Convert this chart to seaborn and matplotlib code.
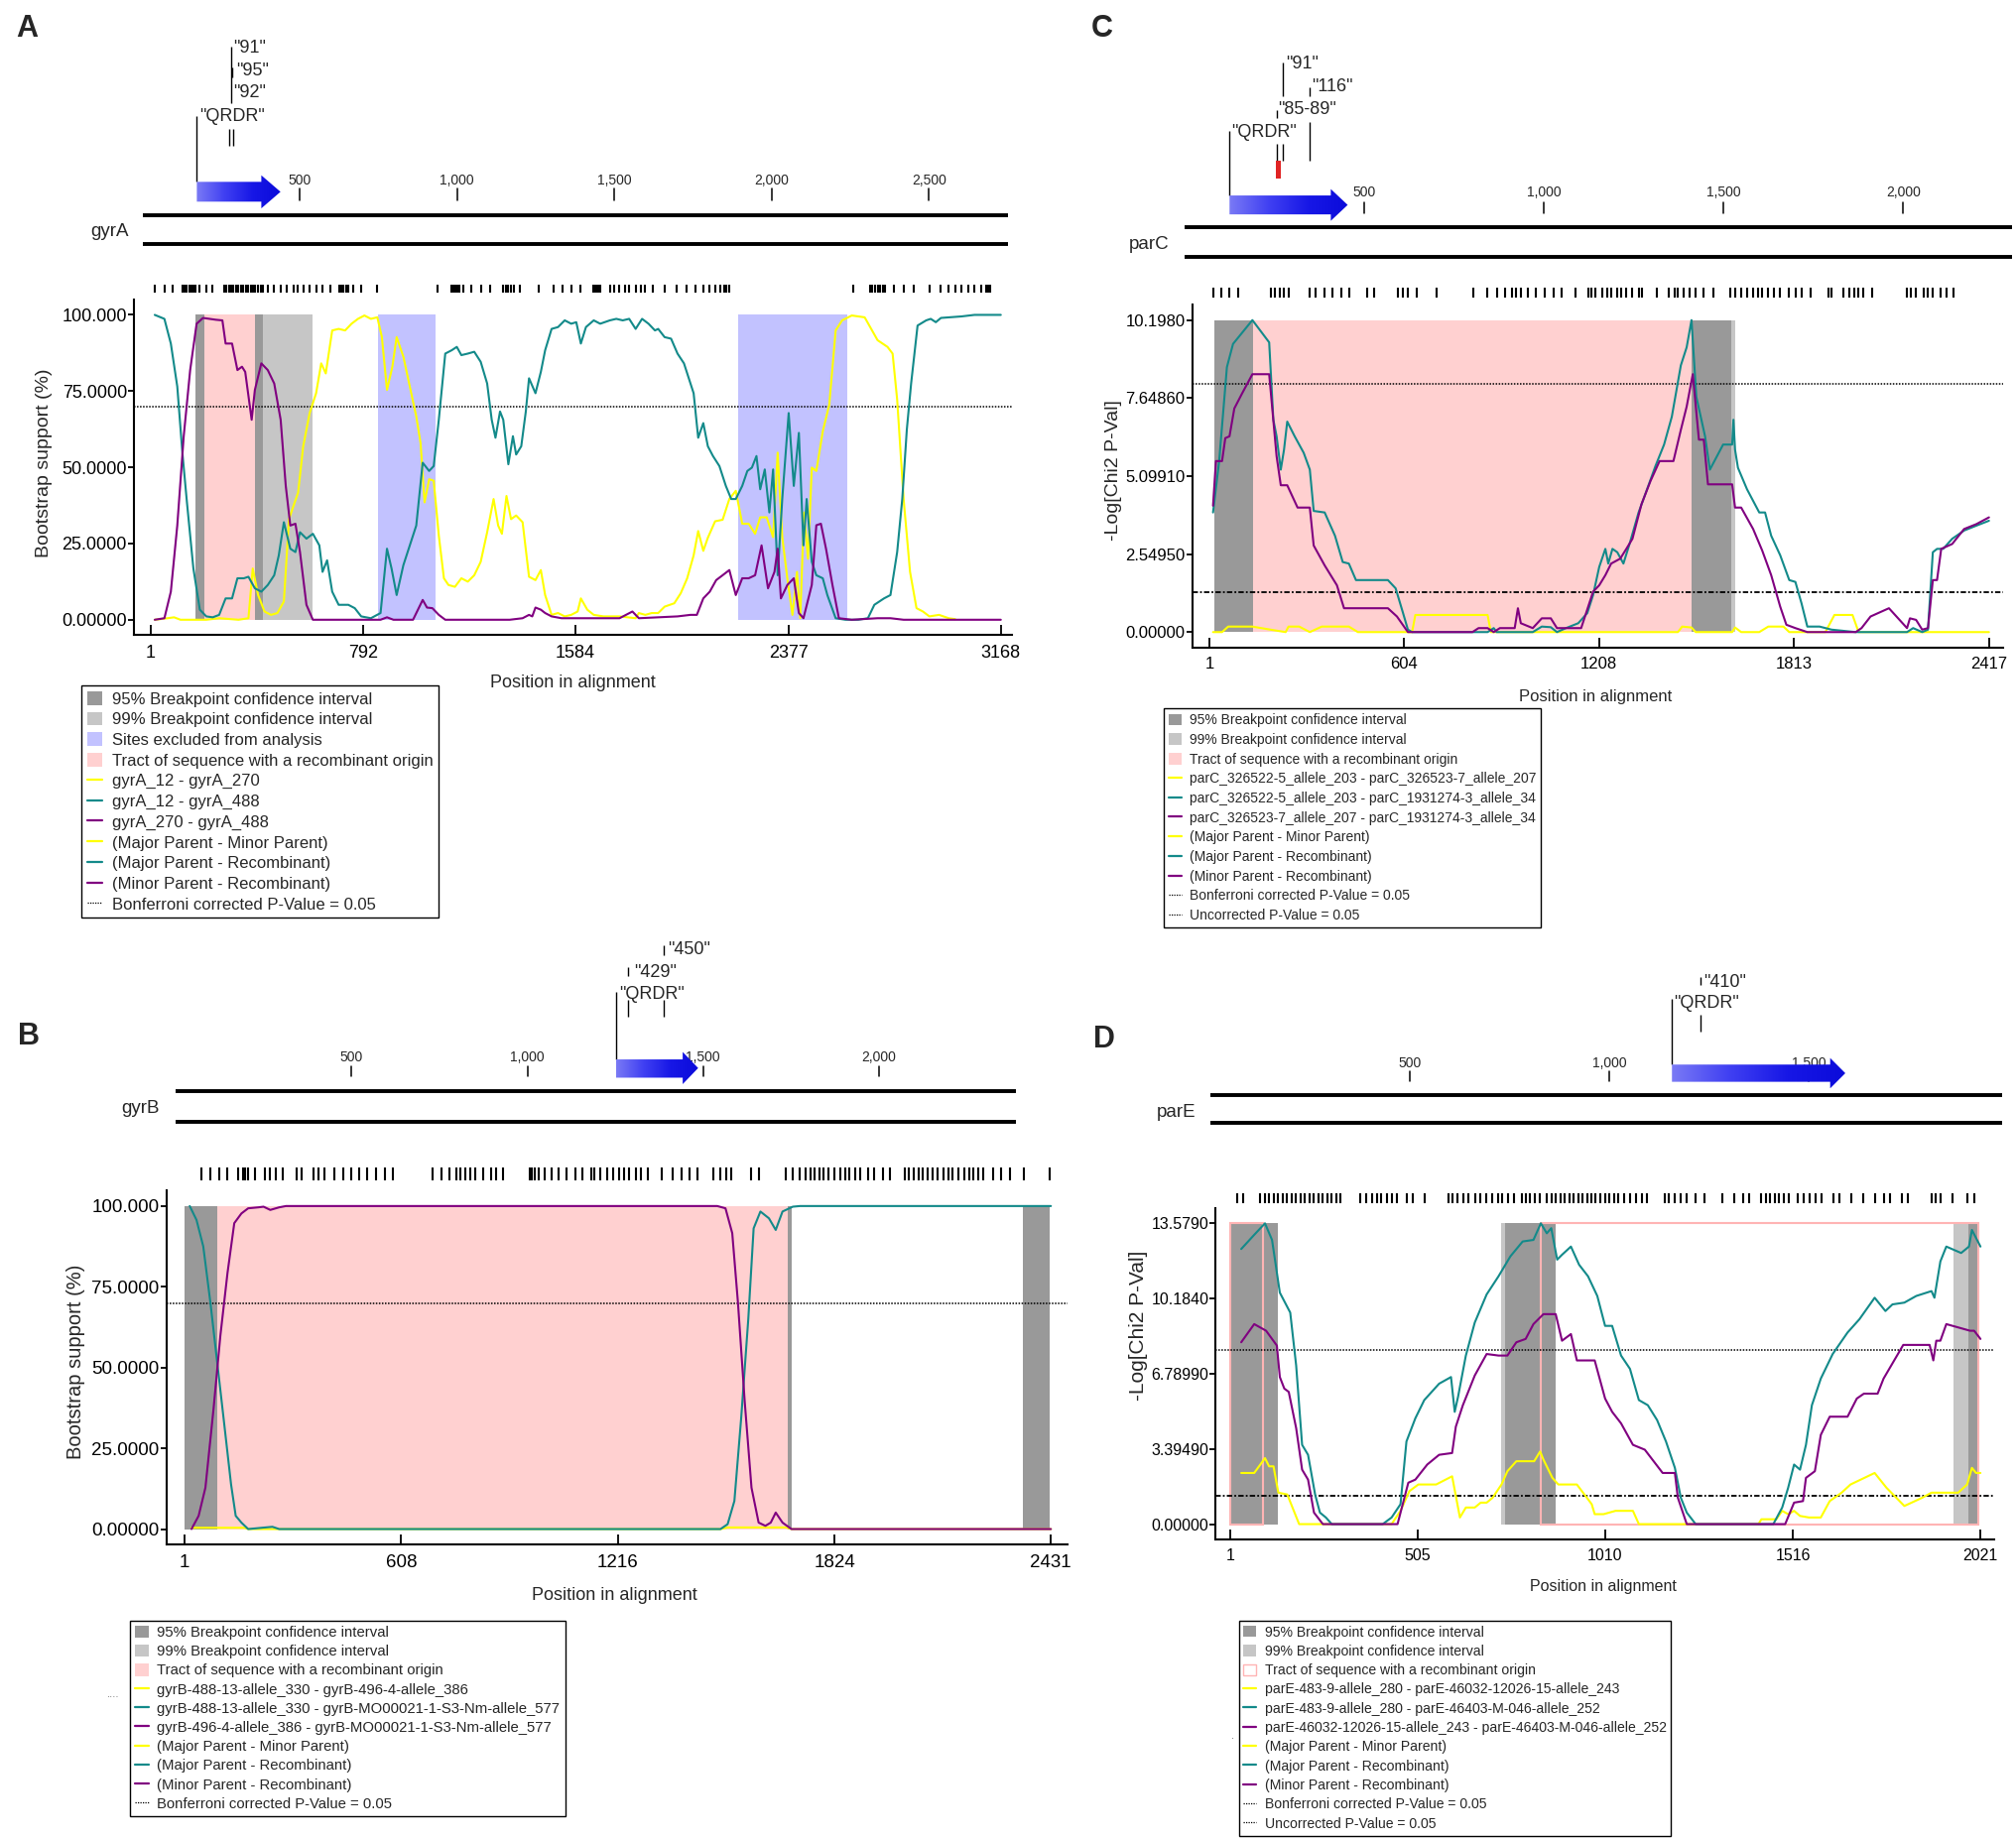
import matplotlib
matplotlib.use("Agg")
import matplotlib.pyplot as plt
import numpy as np
import seaborn as sns
from matplotlib.colors import LinearSegmentedColormap
from matplotlib.lines import Line2D
from matplotlib.patches import Patch, Polygon, Rectangle

sns.set_theme(style="white")
plt.rcParams["font.family"] = ["Liberation Sans", "DejaVu Sans"]

# layout grid: the reference scaled to 1568 x 1430
W, H = 1568.0, 1430.0

YELLOW = "#FFFF00"
TEAL = "#138A8A"
PURPLE = "#800080"
DARK = "#999999"
LIGHT = "#C6C6C6"
BLUE = "#C2C2FF"
PINK = "#FFD0D0"
PINK_EDGE = "#FFB4B4"

# ---------------------------- data: panel A (gyrA) ----------------------------
A_XTICKS = [1, 792, 1584, 2377, 3168]
A_YTICKS = [0, 25, 50, 75, 100]
A_YLABELS = ["0.00000", "25.0000", "50.0000", "75.0000", "100.000"]
A_BONF = 70
A_BP95 = [(169, 202), (390, 419)]
A_BP99 = [(419, 606)]
A_EXCL = [(847, 1063), (2188, 2597)]
A_TRACT = [(202, 390)]
A_PAIRS = ["gyrA_12 - gyrA_270", "gyrA_12 - gyrA_488", "gyrA_270 - gyrA_488"]

A_TEAL_X = [17, 53, 77, 101, 120, 137, 161, 185, 209, 233, 257, 281, 305, 325, 349, 366, 390, 414, 438, 462,
            479, 498, 522, 541, 558, 582, 606, 630, 642, 659, 678, 702, 738, 762, 786, 822, 858, 882, 899, 918,
            943, 967, 991, 1015, 1039, 1056, 1075, 1099, 1123, 1142, 1159, 1183, 1207, 1231, 1255, 1272, 1286,
            1303, 1315, 1334, 1351, 1363, 1382, 1399, 1411, 1435, 1455, 1471, 1495, 1519, 1544, 1568, 1587, 1604,
            1623, 1652, 1676, 1712, 1736, 1760, 1784, 1808, 1832, 1856, 1880, 1892, 1916, 1940, 1964, 1988, 2012,
            2024, 2041, 2060, 2077, 2096, 2120, 2144, 2164, 2181, 2205, 2224, 2241, 2258, 2272, 2289, 2306, 2320,
            2337, 2354, 2378, 2397, 2416, 2433, 2445, 2464, 2481, 2505, 2522, 2553, 2589, 2637, 2673, 2697, 2733,
            2757, 2782, 2801, 2818, 2834, 2858, 2890, 2907, 2926, 2945, 2974, 3022, 3070, 3168]
A_TEAL_Y = [100, 98.7, 90.6, 76.5, 54.8, 38.5, 16.8, 3.3, 1.1, 0.8, 1.6, 7.0, 7.0, 13.6, 13.6, 14.1, 10.3, 9.2,
            11.4, 14.6, 21.1, 32.0, 23.3, 22.2, 28.7, 26.6, 28.2, 24.4, 15.7, 19.5, 9.2, 4.9, 4.9, 3.8, 1.1, 0.5,
            2.2, 23.3, 16.8, 8.1, 17.9, 24.4, 30.9, 51.5, 48.8, 50.4, 65.6, 87.3, 88.4, 89.5, 86.8, 87.3, 87.9,
            84.6, 77.5, 65.6, 59.7, 68.3, 65.6, 51.0, 60.2, 54.2, 56.9, 68.3, 79.2, 74.3, 81.3, 88.4, 95.4, 96.0,
            98.2, 97.1, 97.6, 90.6, 96.0, 98.2, 97.1, 98.2, 98.7, 98.2, 98.7, 95.4, 98.7, 97.1, 94.9, 95.4, 92.7,
            92.2, 87.3, 84.1, 77.5, 74.3, 59.7, 64.5, 56.9, 53.7, 50.4, 43.9, 39.6, 39.6, 43.9, 48.8, 49.9, 53.7,
            42.8, 49.3, 35.2, 49.3, 14.6, 39.6, 67.8, 43.9, 61.3, 24.4, 39.6, 19.0, 14.6, 13.6, 8.1, 0.5, 0, 0,
            0.5, 4.9, 7.0, 8.1, 22.2, 39.6, 62.4, 77.5, 96.5, 98.2, 98.7, 97.6, 99.0, 99.2, 99.5, 100, 100]
A_YEL_X = [17, 65, 89, 113, 209, 257, 329, 366, 382, 402, 426, 450, 474, 498, 517, 534, 551, 570, 594, 618,
           637, 654, 678, 702, 726, 750, 774, 798, 822, 846, 863, 882, 902, 918, 943, 967, 991, 1007, 1022, 1039,
           1056, 1075, 1094, 1111, 1135, 1159, 1183, 1207, 1231, 1255, 1279, 1296, 1310, 1327, 1344, 1363, 1387,
           1411, 1435, 1455, 1471, 1495, 1519, 1544, 1568, 1592, 1604, 1628, 1652, 1688, 1748, 1808, 1820, 1844,
           1868, 1892, 1916, 1952, 1976, 2000, 2024, 2041, 2060, 2077, 2104, 2132, 2157, 2181, 2205, 2229, 2253,
           2272, 2296, 2320, 2337, 2354, 2373, 2392, 2409, 2421, 2435, 2450, 2464, 2481, 2505, 2529, 2553, 2577,
           2613, 2661, 2709, 2746, 2765, 2782, 2806, 2830, 2854, 2878, 2902, 2938, 2974, 2998]
A_YEL_Y = [0, 0.5, 0.8, 0, 0, 0.5, 0, 0.5, 16.8, 8.1, 2.7, 1.6, 2.2, 6.0, 33.0, 37.4, 41.7, 56.9, 67.8, 74.3,
           84.1, 80.8, 94.9, 95.4, 94.9, 97.1, 98.7, 99.8, 98.7, 99.2, 92.7, 75.4, 83.0, 92.7, 86.3, 76.5, 66.7,
           58.0, 38.5, 46.1, 45.6, 27.6, 13.6, 11.4, 10.8, 13.6, 12.5, 14.6, 19.0, 28.7, 39.6, 30.9, 28.2, 40.6,
           33.0, 34.2, 32.0, 14.1, 13.0, 16.3, 8.1, 1.6, 2.2, 1.1, 1.6, 2.7, 7.0, 3.3, 1.6, 1.1, 1.1, 0.5, 2.2,
           1.6, 2.2, 2.2, 4.3, 5.4, 8.7, 13.6, 21.1, 29.1, 22.6, 26.9, 32.3, 32.8, 39.6, 42.3, 31.5, 31.5, 28.2,
           33.6, 33.6, 27.1, 54.8, 27.1, 13.6, 1.6, 15.7, 0.5, 35.2, 20.0, 49.9, 48.8, 61.8, 70.5, 94.9, 98.2,
           99.8, 99.2, 91.7, 89.5, 87.3, 72.2, 39.6, 15.7, 3.8, 2.7, 1.1, 1.6, 0.5, 0.2]
A_PUR_X = [17, 53, 77, 101, 125, 149, 173, 197, 221, 245, 269, 281, 305, 325, 342, 354, 378, 390, 414, 438,
           462, 486, 505, 522, 541, 558, 582, 606, 858, 882, 906, 979, 1015, 1031, 1051, 1075, 1099, 1339, 1387,
           1411, 1423, 1435, 1455, 1471, 1495, 1532, 1748, 1796, 1820, 1964, 2012, 2036, 2060, 2084, 2108, 2132,
           2157, 2181, 2205, 2229, 2253, 2277, 2301, 2325, 2337, 2349, 2373, 2397, 2416, 2433, 2464, 2481, 2498,
           2517, 2541, 2565, 2613, 2709, 2757, 2806, 3168]
A_PUR_Y = [0, 0.5, 9.2, 30.9, 60.2, 81.9, 97.1, 99.0, 98.7, 98.4, 98.2, 90.6, 90.6, 81.9, 83.0, 81.3, 65.6,
           75.4, 84.1, 81.9, 77.5, 65.6, 43.9, 30.9, 31.5, 22.2, 4.9, 0, 0, 0.8, 0, 0, 6.5, 4.0, 3.8, 1.6, 0, 0,
           0.5, 1.6, 1.1, 4.0, 3.3, 2.2, 1.1, 0.5, 0.5, 2.7, 0.5, 1.1, 1.6, 1.6, 7.0, 9.2, 13.0, 14.6, 16.3, 8.1,
           13.6, 13.6, 14.6, 24.4, 10.3, 15.7, 23.3, 7.0, 11.4, 13.6, 2.2, 0.5, 11.4, 31.0, 31.5, 23.3, 11.4, 0.5,
           0, 0.5, 0.5, 0, 0]
A_SITES = [17, 53, 84, 120, 128, 137, 146, 154, 161, 168, 185, 209, 233, 277, 285, 293, 301, 310, 320, 329,
           338, 346, 356, 366, 374, 382, 392, 402, 412, 421, 438, 462, 486, 510, 534, 551, 570, 594, 618, 642,
           671, 705, 713, 721, 730, 738, 757, 786, 846, 1070, 1123, 1130, 1137, 1145, 1152, 1166, 1195, 1231,
           1267, 1315, 1325, 1334, 1344, 1354, 1378, 1447, 1503, 1536, 1570, 1604, 1652, 1658, 1664, 1670, 1676,
           1712, 1729, 1748, 1767, 1784, 1808, 1827, 1844, 1873, 1916, 1959, 1996, 2032, 2060, 2084, 2104, 2123,
           2137, 2147, 2157, 2620, 2681, 2690, 2700, 2710, 2719, 2729, 2738, 2770, 2806, 2842, 2902, 2945, 2974,
           2998, 3022, 3046, 3070, 3094, 3113, 3122, 3130]
A_SCALE = [500, 1000, 1500, 2000, 2500]
GYRA_LEN = 2752

# ---------------------------- data: panel C (parC) ----------------------------
C_XTICKS = [1, 604, 1208, 1813, 2417]
C_YTICKS = [0, 2.5495, 5.0991, 7.6486, 10.198]
C_YLABELS = ["0.00000", "2.54950", "5.09910", "7.64860", "10.1980"]
C_BONF = 8.11
C_UNCORR = 1.301
C_BP95 = [(16, 136), (1495, 1617)]
C_BP99 = [(1617, 1630)]
C_TRACT = [(136, 1495)]
C_PAIRS = ["parC_326522-5_allele_203 - parC_326523-7_allele_207",
           "parC_326522-5_allele_203 - parC_1931274-3_allele_34",
           "parC_326523-7_allele_207 - parC_1931274-3_allele_34"]

C_TEAL_X = [12, 31, 55, 74, 134, 186, 199, 209, 222, 232, 242, 265, 293, 312, 324, 358, 390, 414, 433, 455,
            554, 578, 601, 616, 629, 863, 882, 891, 1003, 1031, 1059, 1078, 1106, 1144, 1172, 1190, 1209, 1228,
            1237, 1250, 1265, 1284, 1303, 1331, 1359, 1383, 1410, 1434, 1462, 1480, 1495, 1510, 1527, 1537, 1552,
            1574, 1593, 1621, 1625, 1630, 1639, 1667, 1705, 1723, 1742, 1770, 1798, 1817, 1836, 1854, 1892, 1929,
            2004, 2163, 2182, 2210, 2228, 2243, 2256, 2275, 2303, 2340, 2378, 2417]
C_TEAL_Y = [3.91, 5.59, 8.66, 9.42, 10.198, 9.47, 6.94, 6.40, 5.31, 5.96, 6.88, 6.40, 5.86, 5.31, 3.96, 3.91,
            3.15, 2.29, 2.24, 1.70, 1.70, 1.43, 0.62, 0.08, 0, 0, 0.13, 0, 0, 0.18, 0.16, 0, 0.13, 0.29, 0.62,
            1.21, 2.13, 2.72, 2.24, 2.72, 2.61, 2.24, 2.88, 3.91, 4.72, 5.42, 6.13, 7.04, 8.72, 9.31, 10.198,
            7.69, 6.88, 6.40, 5.31, 5.75, 6.13, 6.13, 6.94, 5.96, 5.37, 4.67, 3.91, 3.91, 3.15, 2.51, 1.70, 1.64,
            0.94, 0.18, 0.18, 0.08, 0, 0, 0.13, 0, 0.08, 2.61, 2.72, 2.72, 3.05, 3.32, 3.48, 3.64]
C_PUR_X = [12, 21, 40, 50, 63, 78, 102, 134, 186, 209, 222, 242, 274, 312, 324, 358, 396, 418, 554, 582, 616,
           816, 835, 863, 882, 901, 947, 957, 966, 1003, 1031, 1059, 1078, 1153, 1190, 1209, 1228, 1246, 1274,
           1293, 1312, 1340, 1368, 1396, 1439, 1462, 1480, 1499, 1518, 1533, 1546, 1621, 1630, 1649, 1686, 1714,
           1742, 1770, 1789, 1817, 1854, 2004, 2022, 2050, 2107, 2163, 2172, 2191, 2210, 2228, 2243, 2256, 2269,
           2303, 2340, 2378, 2417]
C_PUR_Y = [4.13, 5.59, 5.59, 6.34, 6.40, 7.31, 7.80, 8.43, 8.43, 5.75, 4.80, 4.80, 4.07, 4.07, 2.83, 2.18,
           1.53, 0.78, 0.78, 0.51, 0, 0, 0.13, 0.13, 0, 0.13, 0.13, 0.78, 0.29, 0.13, 0.45, 0.45, 0.13, 0.13,
           1.32, 1.53, 1.86, 2.24, 2.40, 2.72, 3.05, 4.18, 4.94, 5.59, 5.59, 6.61, 7.37, 8.43, 6.29, 6.29, 4.83,
           4.83, 4.07, 4.07, 3.37, 2.67, 1.86, 0.83, 0.24, 0.13, 0, 0, 0.13, 0.51, 0.78, 0.13, 0.45, 0.40, 0.08,
           0.13, 1.70, 1.70, 2.72, 2.88, 3.37, 3.53, 3.75]
C_YEL_X = [12, 40, 59, 134, 190, 237, 246, 279, 312, 349, 433, 461, 629, 639, 863, 873, 1453, 1466, 1495, 1508,
           1621, 1630, 1649, 1705, 1733, 1780, 1798, 1910, 1938, 1994, 2013, 2417]
C_YEL_Y = [0, 0, 0.18, 0.18, 0.08, 0, 0.18, 0.18, 0, 0.18, 0.18, 0, 0, 0.56, 0.56, 0, 0, 0.18, 0.15, 0, 0,
           0.15, 0, 0, 0.18, 0.18, 0, 0, 0.56, 0.56, 0, 0]
C_SITES = [12, 37, 63, 91, 190, 203, 218, 231, 246, 311, 330, 358, 382, 409, 433, 489, 512, 586, 601, 616, 642,
           706, 820, 863, 891, 916, 938, 951, 966, 988, 1013, 1041, 1069, 1091, 1134, 1175, 1185, 1196, 1218,
           1233, 1246, 1265, 1278, 1293, 1312, 1331, 1340, 1387, 1424, 1443, 1452, 1471, 1490, 1508, 1533, 1564,
           1615, 1630, 1648, 1667, 1686, 1701, 1714, 1733, 1751, 1770, 1798, 1817, 1836, 1864, 1920, 1929, 1966,
           1985, 2000, 2013, 2028, 2056, 2163, 2176, 2191, 2215, 2228, 2243, 2266, 2284, 2307]
C_SCALE = [500, 1000, 1500, 2000]
PARC_LEN = 2303

# ---------------------------- data: panel B (gyrB) ----------------------------
B_XTICKS = [1, 608, 1216, 1824, 2431]
B_YTICKS = [0, 25, 50, 75, 100]
B_YLABELS = ["0.00000", "25.0000", "50.0000", "75.0000", "100.000"]
B_BONF = 70
B_BP95 = [(1, 92), (1694, 1704), (2352, 2427)]
B_BP99 = []
B_TRACT = [(92, 1694)]
B_PAIRS = ["gyrB-488-13-allele_330 - gyrB-496-4-allele_386",
           "gyrB-488-13-allele_330 - gyrB-MO00021-1-S3-Nm-allele_577",
           "gyrB-496-4-allele_386 - gyrB-MO00021-1-S3-Nm-allele_577"]

B_TEAL_X = [15, 34, 53, 73, 92, 111, 131, 144, 160, 179, 227, 247, 266, 1504, 1524, 1543, 1562, 1582, 1597,
            1616, 1640, 1659, 1678, 1707, 1727, 2431]
B_TEAL_Y = [100, 95.7, 87.5, 70.1, 51.7, 33.3, 13.8, 4.1, 2.0, 0, 0.5, 0.7, 0, 0, 1.5, 8.7, 34.3, 65.0, 93.1,
            98.3, 96.2, 92.6, 98.3, 99.8, 100, 100]
B_PUR_X = [20, 40, 59, 82, 101, 121, 140, 160, 179, 208, 222, 241, 266, 285, 1495, 1518, 1537, 1553, 1572,
           1591, 1611, 1630, 1645, 1659, 1678, 1703, 2431]
B_PUR_Y = [0, 4.1, 12.8, 37.4, 59.9, 79.3, 94.7, 97.7, 99.3, 99.6, 99.8, 98.8, 99.6, 100, 100, 99.3, 91.6,
           70.1, 39.4, 12.8, 2.0, 1.0, 2.0, 5.1, 2.0, 0, 0]
B_YEL_X = [20, 169, 179, 1504, 1524, 1688, 1703, 2431]
B_YEL_Y = [0.4, 0.4, 0, 0, 0.5, 0.5, 0, 0]
B_SITES = [49, 73, 98, 121, 150, 164, 171, 179, 198, 227, 241, 256, 276, 314, 328, 363, 376, 392, 421, 446,
           469, 489, 512, 537, 562, 585, 697, 721, 744, 763, 775, 788, 802, 817, 837, 860, 875, 895, 968, 975,
           982, 995, 1011, 1030, 1050, 1073, 1098, 1117, 1143, 1150, 1166, 1185, 1204, 1220, 1233, 1247, 1266,
           1282, 1301, 1340, 1369, 1394, 1417, 1440, 1485, 1504, 1520, 1533, 1591, 1611, 1688, 1707, 1727, 1742,
           1756, 1769, 1781, 1794, 1808, 1824, 1839, 1853, 1866, 1882, 1897, 1917, 1936, 1959, 1978, 2021, 2033,
           2046, 2060, 2071, 2085, 2098, 2114, 2129, 2143, 2156, 2172, 2187, 2201, 2214, 2226, 2240, 2269, 2292,
           2317, 2356, 2427]
B_SCALE = [500, 1000, 1500, 2000]
GYRB_LEN = 2390

# ---------------------------- data: panel D (parE) ----------------------------
D_XTICKS = [1, 505, 1010, 1516, 2021]
D_YTICKS = [0, 3.3949, 6.7899, 10.184, 13.579]
D_YLABELS = ["0.00000", "3.39490", "6.78990", "10.1840", "13.5790"]
D_BONF = 7.86
D_UNCORR = 1.301
D_BP95 = [(1, 130), (740, 877), (1989, 2015)]
D_BP99 = [(729, 740), (1949, 1989)]
D_TRACT = [(1, 89), (837, 2015)]
D_PAIRS = ["parE-483-9-allele_280 - parE-46032-12026-15-allele_243",
           "parE-483-9-allele_280 - parE-46403-M-046-allele_252",
           "parE-46032-12026-15-allele_243 - parE-46403-M-046-allele_252"]

D_TEAL_X = [30, 65, 94, 113, 134, 162, 178, 194, 210, 229, 242, 258, 274, 411, 435, 459, 475, 499, 523, 563,
            595, 605, 614, 635, 659, 691, 723, 755, 788, 817, 837, 853, 865, 881, 894, 918, 940, 964, 989, 1010,
            1029, 1053, 1077, 1101, 1125, 1150, 1174, 1198, 1214, 1230, 1254, 1463, 1487, 1503, 1519, 1535, 1551,
            1567, 1591, 1623, 1663, 1695, 1736, 1765, 1784, 1816, 1848, 1889, 1897, 1913, 1929, 1969, 1990, 1998,
            2021]
D_TEAL_Y = [12.42, 13.06, 13.579, 12.83, 10.45, 9.55, 7.16, 3.58, 3.13, 1.34, 0.52, 0.30, 0, 0, 0.30, 0.90,
            3.73, 4.78, 5.60, 6.34, 6.64, 5.07, 5.75, 7.61, 9.10, 10.37, 11.19, 12.09, 12.76, 12.83, 13.579, 13.13,
            13.36, 11.94, 12.16, 12.53, 11.71, 11.19, 10.30, 8.95, 8.95, 7.61, 7.01, 5.60, 5.37, 4.70, 3.73, 2.54,
            1.19, 0.52, 0, 0, 0.75, 1.64, 2.69, 2.46, 3.58, 5.37, 6.57, 7.68, 8.65, 9.25, 10.22, 9.62, 9.92,
            10.00, 10.30, 10.52, 10.22, 11.86, 12.53, 12.24, 12.53, 13.28, 12.53]
D_PUR_X = [30, 65, 97, 113, 126, 134, 146, 158, 178, 194, 210, 226, 250, 451, 480, 499, 531, 563, 598, 608,
           627, 659, 691, 723, 747, 771, 796, 817, 844, 877, 894, 918, 934, 982, 1010, 1029, 1053, 1085, 1117,
           1165, 1198, 1206, 1230, 1495, 1519, 1543, 1551, 1575, 1591, 1615, 1663, 1688, 1707, 1744, 1760, 1813,
           1884, 1894, 1902, 1913, 1929, 1961, 1993, 2004, 2021]
D_PUR_Y = [8.21, 9.03, 8.73, 8.36, 8.06, 6.64, 6.12, 5.97, 4.33, 2.46, 2.01, 0.52, 0, 0, 1.87, 2.01, 2.69,
           3.13, 3.21, 4.40, 5.37, 6.71, 7.68, 7.61, 7.61, 8.21, 8.36, 9.03, 9.48, 9.48, 8.28, 8.58, 7.39, 7.39,
           5.67, 5.07, 4.55, 3.58, 3.36, 2.31, 2.31, 1.19, 0, 0, 0.97, 1.04, 2.09, 2.39, 4.03, 4.85, 4.85, 5.67,
           5.89, 5.89, 6.57, 8.09, 8.09, 7.39, 8.28, 8.28, 9.03, 8.88, 8.73, 8.73, 8.36]
D_YEL_X = [30, 65, 94, 105, 117, 130, 154, 186, 250, 435, 459, 483, 507, 555, 598, 619, 635, 659, 675, 691,
           707, 731, 747, 771, 819, 835, 844, 868, 884, 934, 974, 982, 1006, 1038, 1085, 1101, 1254, 1423, 1431,
           1471, 1487, 1503, 1519, 1535, 1559, 1591, 1615, 1647, 1671, 1736, 1768, 1816, 1864, 1889, 1961, 1985,
           1998, 2009, 2021]
D_YEL_Y = [2.31, 2.31, 2.98, 2.61, 2.61, 1.42, 1.34, 0, 0, 0, 0.60, 1.49, 1.79, 1.79, 2.16, 0.30, 0.75, 0.75,
           0.97, 0.97, 1.19, 1.79, 2.39, 2.84, 2.84, 3.28, 2.91, 2.09, 1.79, 1.79, 0.90, 0.45, 0.45, 0.60, 0.60,
           0, 0, 0, 0.22, 0.22, 0.60, 0.45, 0.60, 0.37, 0.30, 0.30, 1.04, 1.42, 1.79, 2.31, 1.64, 0.82, 1.19,
           1.42, 1.42, 1.79, 2.54, 2.31, 2.31]
D_SITES = [20, 36, 81, 94, 105, 117, 130, 142, 154, 165, 178, 191, 202, 213, 226, 239, 250, 261, 274, 287, 298,
           351, 367, 383, 395, 406, 422, 435, 448, 475, 491, 523, 588, 599, 612, 628, 641, 660, 673, 689, 705,
           721, 732, 748, 764, 785, 796, 808, 820, 833, 853, 866, 877, 890, 901, 914, 925, 938, 949, 962, 973,
           984, 997, 1010, 1021, 1034, 1046, 1062, 1078, 1094, 1110, 1123, 1171, 1182, 1198, 1214, 1230, 1254,
           1279, 1327, 1359, 1383, 1399, 1431, 1444, 1455, 1467, 1479, 1492, 1504, 1528, 1544, 1560, 1576, 1592,
           1624, 1640, 1672, 1704, 1737, 1761, 1777, 1809, 1825, 1889, 1900, 1913, 1945, 1985, 2005]
D_SCALE = [500, 1000, 1500]
PARE_LEN = 1985

PARENTS = ["(Major Parent - Minor Parent)", "(Major Parent - Recombinant)", "(Minor Parent - Recombinant)"]

ARROW_CMAP = LinearSegmentedColormap.from_list("arrow", ["#7A7AF5", "#4040F2", "#1717E6", "#0B0BDA"])


def box(left, top, right, bottom):
    return [left / W, 1 - bottom / H, (right - left) / W, (bottom - top) / H]


fig = plt.figure(figsize=(20.33, 18.54), dpi=100)


def plot_panel(rect, xlim, ylim, xticks, yticks, ylabels, fs):
    ax = fig.add_axes(rect)
    ax.set_xlim(*xlim)
    ax.set_ylim(*ylim)
    for side in ("top", "right"):
        ax.spines[side].set_visible(False)
    for side in ("left", "bottom"):
        ax.spines[side].set_color("black")
        ax.spines[side].set_linewidth(1.5)
    ax.set_xticks(xticks)
    ax.set_xticklabels([str(t) for t in xticks])
    ax.set_yticks(yticks)
    ax.set_yticklabels(ylabels)
    ax.tick_params(axis="x", bottom=True, direction="in", length=7, width=1.3, pad=7,
                   labelsize=fs, colors="black")
    ax.tick_params(axis="y", left=True, direction="out", length=4, width=1.3, pad=1,
                   labelsize=fs, colors="black")
    ax.grid(False)
    return ax


def shade(ax, spans, color, top):
    for a, b in spans:
        ax.fill_between([a, b], 0, top, color=color, lw=0, zorder=0.5)


def curves(ax, series):
    for xs, ys, col in series:
        sns.lineplot(x=xs, y=ys, ax=ax, color=col, lw=1.5, estimator=None, sort=False,
                     legend=False, zorder=3)


def sites(ax, pos, y0, y1):
    ax.vlines(pos, y0, y1, transform=ax.get_xaxis_transform(), colors="black", lw=1.5,
              clip_on=False)


def bonferroni(ax, y):
    ax.axhline(y, color="black", lw=1.1, ls=(0, (1, 1)), zorder=2)


def uncorrected(ax, y):
    ax.axhline(y, color="black", lw=1.3, ls=(0, (3, 1.2, 1, 1.2)), zorder=2)


def draw_map(rect, rows, length, name, name_x, name_y, scale, label_y, tick_rows, line_rows, arrow):
    ax = fig.add_axes(rect)
    ax.axis("off")
    for y in line_rows:
        ax.plot([0, length], [y, y], color="black", lw=2.8, solid_capstyle="butt")
    for t in scale:
        ax.text(t, label_y, f"{t:,}", ha="center", va="center", fontsize=10, zorder=1)
        ax.plot([t, t], tick_rows, color="black", lw=1.1, zorder=1)
    ax.text(name_x, name_y, name, ha="right", va="center", fontsize=13.5, clip_on=False)
    x0, xb, xt, b1, b2, h1, h2 = arrow
    yc = (h1 + h2) / 2
    poly = Polygon([(x0, b1), (xb, b1), (xb, h1), (xt, yc), (xb, h2), (xb, b2), (x0, b2)],
                   closed=True, facecolor="none", edgecolor="none", zorder=4)
    ax.add_patch(poly)
    grad = np.linspace(0, 1, 256).reshape(1, -1)
    im = ax.imshow(grad, extent=(x0, xt, h2, h1), cmap=ARROW_CMAP, aspect="auto", zorder=4)
    im.set_clip_path(poly)
    ax.set_xlim(0, length)
    ax.set_ylim(rows[1], rows[0])
    return ax


def vline(ax, x, y0, y1, color="black", lw=1.0):
    ax.plot([x, x], [y0, y1], color=color, lw=lw, solid_capstyle="butt", clip_on=False)


def note(ax, x, y, s):
    ax.text(x, y, s, ha="left", va="center", fontsize=13, clip_on=False)


def add_legend(left, top, pairs, fs, spacing, excluded=False, uncorr=False, open_tract=False):
    handles = [Patch(facecolor=DARK, edgecolor="none"), Patch(facecolor=LIGHT, edgecolor="none")]
    labels = ["95% Breakpoint confidence interval", "99% Breakpoint confidence interval"]
    if excluded:
        handles.append(Patch(facecolor=BLUE, edgecolor="none"))
        labels.append("Sites excluded from analysis")
    if open_tract:
        handles.append(Patch(facecolor="white", edgecolor=PINK_EDGE, lw=1.0))
    else:
        handles.append(Patch(facecolor=PINK, edgecolor="none"))
    labels.append("Tract of sequence with a recombinant origin")
    for lab, col in zip(pairs + PARENTS, [YELLOW, TEAL, PURPLE] * 2):
        handles.append(Line2D([], [], color=col, lw=1.6))
        labels.append(lab)
    handles.append(Line2D([], [], color="black", lw=0.9, ls=(0, (1, 1))))
    labels.append("Bonferroni corrected P-Value = 0.05")
    if uncorr:
        handles.append(Line2D([], [], color="black", lw=0.9, ls=(0, (1, 1))))
        labels.append("Uncorrected P-Value = 0.05")
    leg = fig.legend(handles, labels, loc="upper left", bbox_to_anchor=(left / W, 1 - top / H),
                     bbox_transform=fig.transFigure, fontsize=fs, labelspacing=spacing,
                     handlelength=0.9, handleheight=0.9, handletextpad=0.6, borderpad=0.35,
                     borderaxespad=0, frameon=True, fancybox=False, framealpha=1)
    leg.get_frame().set_edgecolor("black")
    leg.get_frame().set_linewidth(1.0)
    return leg


def fig_text(x, y, s, **kw):
    fig.text(x / W, 1 - y / H, s, ha="center", va="center", **kw)


# ---------------------------- panel A ----------------------------
axA = plot_panel(box(104, 233, 787, 494), (-61, 3211), (-5.1, 105), A_XTICKS, A_YTICKS, A_YLABELS, 13)
shade(axA, A_TRACT, PINK, 100)
shade(axA, A_BP99, LIGHT, 100)
shade(axA, A_BP95, DARK, 100)
shade(axA, A_EXCL, BLUE, 100)
bonferroni(axA, A_BONF)
curves(axA, [(A_YEL_X, A_YEL_Y, YELLOW), (A_TEAL_X, A_TEAL_Y, TEAL), (A_PUR_X, A_PUR_Y, PURPLE)])
sites(axA, A_SITES, 1.021, 1.046)
mA = draw_map(box(110.7, 25, 783.8, 200), (25, 200), GYRA_LEN, "gyrA", -44, 180, A_SCALE, 140,
              (146.5, 155.6), (167, 190), (173, 378, 439, 141.4, 156.8, 136.3, 162))
vline(mA, 173, 90, 141.4)
note(mA, 183, 90.5, '"QRDR"')
vline(mA, 276, 100, 113)
vline(mA, 288, 100, 113)
vline(mA, 283, 36, 80)
vline(mA, 286, 52.7, 60.4)
note(mA, 290, 37.3, '"91"')
note(mA, 298, 54.8, '"95"')
note(mA, 290, 72.5, '"92"')
fig_text(21, 22.5, "A", fontsize=22, fontweight="bold")
fig_text(34, 360, "Bootstrap support (%)", fontsize=14, rotation=90)
fig_text(445, 531, "Position in alignment", fontsize=13)
add_legend(63, 533, A_PAIRS, 12, 0.3, excluded=True)

# ---------------------------- panel C ----------------------------
axC = plot_panel(box(926.7, 236.5, 1557, 503.4), (-53, 2460), (-0.50, 10.72), C_XTICKS, C_YTICKS,
                 C_YLABELS, 12)
shade(axC, C_TRACT, PINK, 10.198)
shade(axC, C_BP99, LIGHT, 10.198)
shade(axC, C_BP95, DARK, 10.198)
bonferroni(axC, C_BONF)
uncorrected(axC, C_UNCORR)
curves(axC, [(C_YEL_X, C_YEL_Y, YELLOW), (C_TEAL_X, C_TEAL_Y, TEAL), (C_PUR_X, C_PUR_Y, PURPLE)])
sites(axC, C_SITES, 1.019, 1.047)
mC = draw_map(box(921.2, 30, 1564.2, 210), (30, 210), PARC_LEN, "parC", -43, 190, C_SCALE, 150,
              (157.4, 165.8), (176.9, 200), (124, 406, 453, 152, 166.7, 147, 171.7))
vline(mC, 124, 101.5, 152)
note(mC, 128, 103, '"QRDR"')
note(mC, 260, 85, '"85-89"')
vline(mC, 255, 86, 91.5)
note(mC, 352, 67.6, '"116"')
vline(mC, 348, 68, 74.5)
note(mC, 280, 50, '"91"')
vline(mC, 272, 48.9, 74.6)
vline(mC, 348, 94.6, 124.7)
vline(mC, 255, 112, 125)
vline(mC, 272, 112, 125)
mC.add_patch(Rectangle((253, 125), 14, 14, facecolor="#E02424", edgecolor="none", zorder=3))
fig_text(857, 22.5, "C", fontsize=22, fontweight="bold")
fig_text(866, 366, "-Log[Chi2 P-Val]", fontsize=14, rotation=90)
fig_text(1240, 542, "Position in alignment", fontsize=12)
add_legend(905, 551, C_PAIRS, 10, 0.41, uncorr=True)

# ---------------------------- panel B ----------------------------
axB = plot_panel(box(129.2, 925.5, 830, 1201.3), (-51, 2478), (-4.9, 104.9), B_XTICKS, B_YTICKS,
                 B_YLABELS, 13.5)
shade(axB, B_TRACT, PINK, 100)
shade(axB, B_BP99, LIGHT, 100)
shade(axB, B_BP95, DARK, 100)
bonferroni(axB, B_BONF)
curves(axB, [(B_YEL_X, B_YEL_Y, YELLOW), (B_TEAL_X, B_TEAL_Y, TEAL), (B_PUR_X, B_PUR_Y, PURPLE)])
sites(axB, B_SITES, 1.027, 1.064)
mB = draw_map(box(136.8, 720, 789.7, 880), (720, 880), GYRB_LEN, "gyrB", -47, 862, B_SCALE, 822,
              (829, 837), (848.4, 872), (1252, 1442, 1486, 823.8, 838, 818, 843))
vline(mB, 1252, 771, 824)
note(mB, 1260, 773.3, '"QRDR"')
note(mB, 1305, 756.3, '"429"')
vline(mB, 1285, 752, 759)
note(mB, 1399, 738.3, '"450"')
vline(mB, 1387, 735, 743)
vline(mB, 1285, 777.8, 790.7)
vline(mB, 1387, 777.8, 790.7)
fig_text(22, 806, "B", fontsize=22, fontweight="bold")
fig_text(59, 1059, "Bootstrap support (%)", fontsize=14.5, rotation=90)
fig_text(478, 1241, "Position in alignment", fontsize=13)
add_legend(101, 1260, B_PAIRS, 10.7, 0.33)
fig_text(88, 1320, "····", fontsize=7, color="#555555")

# ---------------------------- panel D ----------------------------
axD = plot_panel(box(945, 939.7, 1550, 1196.7), (-39, 2057), (-0.67, 14.25), D_XTICKS, D_YTICKS,
                 D_YLABELS, 11.5)
shade(axD, D_BP99, LIGHT, 13.579)
shade(axD, D_BP95, DARK, 13.579)
for a, b in D_TRACT:
    axD.add_patch(Rectangle((a, 0), b - a, 13.579, facecolor="none", edgecolor=PINK_EDGE, lw=1.5,
                            zorder=1))
bonferroni(axD, D_BONF)
uncorrected(axD, D_UNCORR)
curves(axD, [(D_YEL_X, D_YEL_Y, YELLOW), (D_TEAL_X, D_TEAL_Y, TEAL), (D_PUR_X, D_PUR_Y, PURPLE)])
sites(axD, D_SITES, 1.016, 1.045)
mD = draw_map(box(941.3, 740, 1556.3, 880), (740, 880), PARE_LEN, "parE", -37, 865, D_SCALE, 826.5,
              (833, 841), (851.4, 873.3), (1157, 1554, 1592, 827.8, 841.2, 822.7, 846.3))
vline(mD, 1157, 776.4, 827.8)
note(mD, 1162, 780.2, '"QRDR"')
note(mD, 1237, 764, '"410"')
vline(mD, 1228, 760, 766)
vline(mD, 1228, 789, 802)
fig_text(858, 808, "D", fontsize=22, fontweight="bold")
fig_text(885, 1031, "-Log[Chi2 P-Val]", fontsize=15, rotation=90)
fig_text(1246, 1234, "Position in alignment", fontsize=11.5)
add_legend(963, 1260, D_PAIRS, 10.1, 0.38, uncorr=True, open_tract=True)
fig_text(958, 1352, "·", fontsize=7, color="#555555")

fig.savefig("out.png", dpi=100, facecolor="white")
